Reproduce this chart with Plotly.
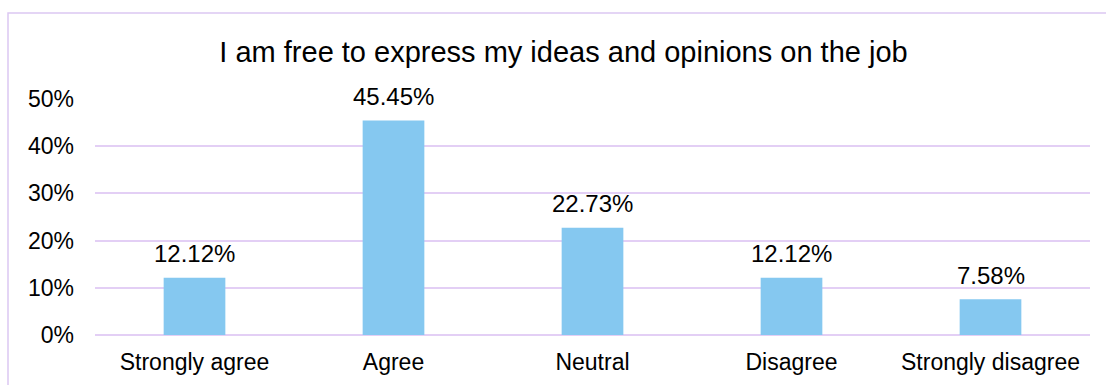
import plotly.graph_objects as go

categories = ["Strongly agree", "Agree", "Neutral", "Disagree", "Strongly disagree"]
values = [0.1212, 0.4545, 0.2273, 0.1212, 0.0758]
labels = ["12.12%", "45.45%", "22.73%", "12.12%", "7.58%"]
title = "I am free to express my ideas and opinions on the job"

FONT = "Liberation Sans, Arial, sans-serif"
GRID = "#E3CFF5"

fig = go.Figure()
fig.add_trace(go.Bar(x=categories, y=values, marker=dict(color="#85C8F0", line=dict(width=0)),
                     hoverinfo="skip"))

for c, v, t in zip(categories, values, labels):
    fig.add_annotation(x=c, y=v, text=t, showarrow=False, yanchor="middle", yshift=24,
                       font=dict(family=FONT, size=24, color="#000000"))

L, R, T, B = 95, 16, 99, 50
W, H = 1106, 385
pw = W - L - R
ph = H - T - B
fig.add_shape(type="rect", xref="paper", yref="paper",
              x0=(8 - L) / pw, x1=(W + 10 - L) / pw,
              y0=-(H + 10 - T - ph) / ph, y1=(H - 13 - B) / ph,
              line=dict(color="#DCC8F2", width=1.5), layer="below")

fig.update_layout(
    width=W, height=H,
    margin=dict(l=L, r=R, t=T, b=B, autoexpand=False),
    paper_bgcolor="white", plot_bgcolor="white",
    showlegend=False,
    bargap=0.69,
    title=dict(text=title, x=563.5 / W, xref="container", xanchor="center", y=1 - 52 / H, yanchor="middle",
               font=dict(family=FONT, size=29, color="#000000")),
    font=dict(family=FONT, size=23, color="#000000"),
)
fig.update_xaxes(showgrid=False, showline=False, ticks="", tickfont=dict(size=23), ticklabelstandoff=11,
                 automargin=False, fixedrange=True)
fig.update_yaxes(range=[0, 0.5], dtick=0.1, tickformat=".0%", showgrid=True, gridcolor=GRID, gridwidth=1.5,
                 zeroline=True, zerolinecolor=GRID, zerolinewidth=1.5, showline=False,
                 ticklabelstandoff=20, tickfont=dict(size=23), automargin=False, fixedrange=True)

fig.write_html("out.html")
